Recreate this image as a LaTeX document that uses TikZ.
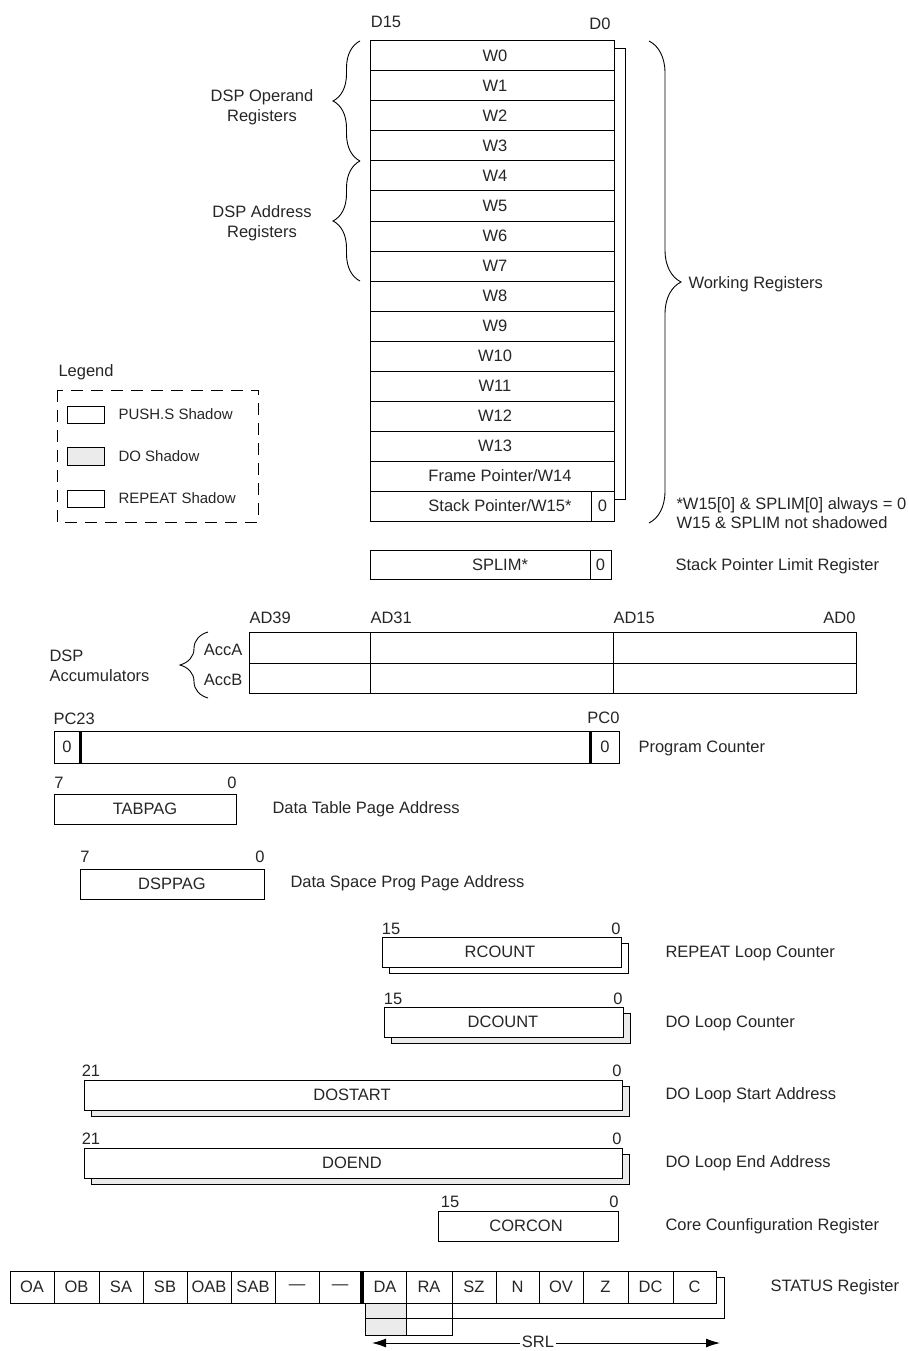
\documentclass[tikz,border=0pt]{standalone}
\usepackage{fontspec}
\setmainfont{Liberation Sans}
\usetikzlibrary{decorations.pathreplacing,arrows.meta}

\begin{document}
\begin{tikzpicture}[x=10pt,y=10pt,line width=1pt,color=black!85]
\tikzstyle{every node}+=[inner sep=0pt,font=\fontsize{16.5}{20}\selectfont]
\tikzstyle{legendtext}=[anchor=west,font=\fontsize{15}{18}\selectfont]
\tikzstyle{doshade}=[fill=black!8]
\useasboundingbox (0,0) rectangle (90.8,-135.1);
% working registers W0..W15 with push.s shadow
\draw [black] (38.1,-4.9) rectangle (62.5,-49.9);
\draw [black,fill=white] (37,-4.1) rectangle (61.4,-52.1);
\draw [black] (37,-7.1) -- (61.4,-7.1);
\draw [black] (37,-10.1) -- (61.4,-10.1);
\draw [black] (37,-13.1) -- (61.4,-13.1);
\draw [black] (37,-16.1) -- (61.4,-16.1);
\draw [black] (37,-19.1) -- (61.4,-19.1);
\draw [black] (37,-22.1) -- (61.4,-22.1);
\draw [black] (37,-25.1) -- (61.4,-25.1);
\draw [black] (37,-28.1) -- (61.4,-28.1);
\draw [black] (37,-31.1) -- (61.4,-31.1);
\draw [black] (37,-34.1) -- (61.4,-34.1);
\draw [black] (37,-37.1) -- (61.4,-37.1);
\draw [black] (37,-40.1) -- (61.4,-40.1);
\draw [black] (37,-43.1) -- (61.4,-43.1);
\draw [black] (37,-46.1) -- (61.4,-46.1);
\draw [black] (37,-49.1) -- (61.4,-49.1);
\draw [black] (59.1,-49.1) -- (59.1,-52.1);
\draw (38.6,-2.2) node (d15) {D15};
\draw (60.0,-2.4) node (d0) {D0};
\draw (49.5,-5.6) node (w0) {W0};
\draw (49.5,-8.6) node (w1) {W1};
\draw (49.5,-11.6) node (w2) {W2};
\draw (49.5,-14.6) node (w3) {W3};
\draw (49.5,-17.6) node (w4) {W4};
\draw (49.5,-20.6) node (w5) {W5};
\draw (49.5,-23.6) node (w6) {W6};
\draw (49.5,-26.6) node (w7) {W7};
\draw (49.5,-29.6) node (w8) {W8};
\draw (49.5,-32.6) node (w9) {W9};
\draw (49.5,-35.6) node (w10) {W10};
\draw (49.5,-38.6) node (w11) {W11};
\draw (49.5,-41.6) node (w12) {W12};
\draw (49.5,-44.6) node (w13) {W13};
\draw (50.0,-47.6) node (w14) {Frame Pointer/W14};
\draw (50.0,-50.6) node (w15) {Stack Pointer/W15*};
\draw (60.25,-50.6) node (w15z) {0};
% braces
\draw [black,line width=0.9pt,decorate,decoration={brace,amplitude=27pt}] (36,-16.1) -- (36,-4.1);
\draw [black,line width=0.9pt,decorate,decoration={brace,amplitude=27pt}] (36,-28.1) -- (36,-16.1);
\draw [black,line width=0.9pt,decorate,decoration={brace,amplitude=32pt}] (64.9,-4.1) -- (64.9,-52.3);
\draw (26.2,-10.7) node [align=center] (oper) {DSP Operand\\Registers};
\draw (26.2,-22.3) node [align=center] (addr) {DSP Address\\Registers};
\draw (68.8,-28.4) node [anchor=west] (work) {Working Registers};
\draw (67.6,-50.5) node [anchor=west] (note1) {*W15[0] \& SPLIM[0] always = 0};
\draw (67.6,-52.3) node [anchor=west] (note2) {W15 \& SPLIM not shadowed};
% stack limit
\draw [black] (37,-55.0) rectangle (61.1,-57.9);
\draw [black] (59.0,-55.0) -- (59.0,-57.9);
\draw (50.0,-56.5) node (splim) {SPLIM*};
\draw (60.05,-56.5) node (splimz) {0};
\draw (67.5,-56.6) node [anchor=west] (splimt) {Stack Pointer Limit Register};
% legend
\draw (5.8,-37.2) node [anchor=west] (leg) {Legend};
\draw [black,dash pattern=on 12pt off 8pt] (5.7,-39.0) rectangle (25.8,-52.2);
\draw [black] (6.7,-40.6) rectangle (10.4,-42.3);
\draw [black,doshade] (6.7,-44.7) rectangle (10.4,-46.5);
\draw [black] (6.7,-49.0) rectangle (10.4,-50.7);
\draw (11.8,-41.4) node [legendtext] (legpush) {PUSH.S Shadow};
\draw (11.8,-45.6) node [legendtext] (legdo) {DO Shadow};
\draw (11.8,-49.8) node [legendtext] (legrep) {REPEAT Shadow};
% accumulators
\draw [black] (24.9,-63.2) rectangle (85.6,-69.3);
\draw [black] (24.9,-66.3) -- (85.6,-66.3);
\draw [black] (37.0,-63.2) -- (37.0,-69.3);
\draw [black] (61.3,-63.2) -- (61.3,-69.3);
\draw (24.9,-61.8) node [anchor=west] (ad39) {AD39};
\draw (37.0,-61.8) node [anchor=west] (ad31) {AD31};
\draw (61.3,-61.8) node [anchor=west] (ad15) {AD15};
\draw (85.6,-61.8) node [anchor=east] (ad0) {AD0};
\draw (24.3,-65.0) node [anchor=east] (acca) {AccA};
\draw (24.3,-68.0) node [anchor=east] (accb) {AccB};
\draw [black,line width=0.9pt,decorate,decoration={brace,amplitude=28pt}] (20.8,-69.8) -- (20.8,-63.2);
\draw (4.9,-66.6) node [anchor=west,align=left] (acc) {DSP\\Accumulators};
% program counter
\draw [black] (5.4,-73.1) rectangle (61.9,-76.3);
\draw [black,line width=3pt] (8.0,-73.1) -- (8.0,-76.3);
\draw [black,line width=3pt] (59.0,-73.1) -- (59.0,-76.3);
\draw (6.7,-74.7) node (pcz1) {0};
\draw (60.5,-74.7) node (pcz2) {0};
\draw (5.3,-71.9) node [anchor=west] (pc23) {PC23};
\draw (62.0,-71.8) node [anchor=east] (pc0) {PC0};
\draw (63.8,-74.8) node [anchor=west] (pct) {Program Counter};
% table page
\draw [black] (5.4,-79.4) rectangle (23.6,-82.4);
\draw (5.9,-78.3) node (tab7) {7};
\draw (23.2,-78.3) node (tab0) {0};
\draw (14.5,-80.9) node (tab) {TABPAG};
\draw (27.2,-80.9) node [anchor=west] (tabt) {Data Table Page Address};
% data space page
\draw [black] (8.0,-86.9) rectangle (26.4,-89.9);
\draw (8.5,-85.7) node (dsp7) {7};
\draw (26.0,-85.7) node (dsp0) {0};
\draw (17.2,-88.4) node (dsp) {DSPPAG};
\draw (29.0,-88.3) node [anchor=west] (dspt) {Data Space Prog Page Address};
% repeat counter
\draw [black] (38.9,-94.3) rectangle (62.8,-97.3);
\draw [black,fill=white] (38.2,-93.7) rectangle (62.1,-96.7);
\draw (39.1,-92.9) node (rc15) {15};
\draw (61.6,-92.9) node (rc0) {0};
\draw (50.0,-95.2) node (rc) {RCOUNT};
\draw (66.5,-95.3) node [anchor=west] (rct) {REPEAT Loop Counter};
% do counter
\draw [black,doshade] (39.1,-101.3) rectangle (63.0,-104.3);
\draw [black,fill=white] (38.4,-100.7) rectangle (62.3,-103.7);
\draw (39.3,-99.9) node (dc15) {15};
\draw (61.8,-99.9) node (dc0) {0};
\draw (50.3,-102.2) node (dc) {DCOUNT};
\draw (66.5,-102.3) node [anchor=west] (dct) {DO Loop Counter};
% do start
\draw [black,doshade] (9.1,-108.6) rectangle (62.9,-111.6);
\draw [black,fill=white] (8.4,-108.0) rectangle (62.2,-111.0);
\draw (9.1,-107.1) node (ds21) {21};
\draw (61.7,-107.1) node (ds0) {0};
\draw (35.2,-109.5) node (ds) {DOSTART};
\draw (66.5,-109.5) node [anchor=west] (dst) {DO Loop Start Address};
% do end
\draw [black,doshade] (9.1,-115.4) rectangle (62.9,-118.4);
\draw [black,fill=white] (8.4,-114.8) rectangle (62.2,-117.8);
\draw (9.1,-113.9) node (de21) {21};
\draw (61.7,-113.9) node (de0) {0};
\draw (35.2,-116.3) node (de) {DOEND};
\draw (66.5,-116.3) node [anchor=west] (det) {DO Loop End Address};
% core config
\draw [black] (43.8,-121.1) rectangle (61.8,-124.1);
\draw (45.0,-120.2) node (cc15) {15};
\draw (61.4,-120.2) node (cc0) {0};
\draw (52.6,-122.6) node (cc) {CORCON};
\draw (66.5,-122.6) node [anchor=west] (cct) {Core Counfiguration Register};
% status register and its shadows
\draw [black] (36.5,-127.7) rectangle (72.4,-131.8);
\draw [black,doshade] (36.5,-130.3) rectangle (40.6,-133.5);
\draw [black] (40.6,-130.3) rectangle (45.2,-133.5);
\draw [black] (36.5,-131.8) -- (45.2,-131.8);
\draw [black,fill=white] (1.0,-127.1) rectangle (71.6,-130.3);
\draw [black] (5.4,-127.1) -- (5.4,-130.3);
\draw [black] (9.9,-127.1) -- (9.9,-130.3);
\draw [black] (14.3,-127.1) -- (14.3,-130.3);
\draw [black] (18.7,-127.1) -- (18.7,-130.3);
\draw [black] (23.1,-127.1) -- (23.1,-130.3);
\draw [black] (27.5,-127.1) -- (27.5,-130.3);
\draw [black] (31.9,-127.1) -- (31.9,-130.3);
\draw [black,line width=4.5pt] (36.2,-127.1) -- (36.2,-130.3);
\draw [black] (40.6,-127.1) -- (40.6,-130.3);
\draw [black] (45.2,-127.1) -- (45.2,-130.3);
\draw [black] (49.6,-127.1) -- (49.6,-130.3);
\draw [black] (53.9,-127.1) -- (53.9,-130.3);
\draw [black] (58.3,-127.1) -- (58.3,-130.3);
\draw [black] (62.8,-127.1) -- (62.8,-130.3);
\draw [black] (67.3,-127.1) -- (67.3,-130.3);
\draw (3.2,-128.7) node (oa) {OA};
\draw (7.65,-128.7) node (ob) {OB};
\draw (12.1,-128.7) node (sa) {SA};
\draw (16.5,-128.7) node (sb) {SB};
\draw (20.9,-128.7) node (oab) {OAB};
\draw (25.3,-128.7) node (sab) {SAB};
\draw (29.7,-128.7) node (na1) {---};
\draw (34.0,-128.7) node (na2) {---};
\draw (38.5,-128.7) node (da) {DA};
\draw (42.9,-128.7) node (ra) {RA};
\draw (47.4,-128.7) node (sz) {SZ};
\draw (51.75,-128.7) node (nn) {N};
\draw (56.1,-128.7) node (ov) {OV};
\draw (60.55,-128.7) node (zz) {Z};
\draw (65.05,-128.7) node (dcf) {DC};
\draw (69.45,-128.7) node (cf) {C};
\draw (77.0,-128.7) node [anchor=west] (st) {STATUS Register};
% low byte arrow
\coordinate (srll) at (37.2,-134.3);
\coordinate (srlr) at (72.0,-134.3);
\draw [black,{Latex[length=14pt,width=9pt]}-{Latex[length=14pt,width=9pt]}] (srll) -- (srlr);
\draw (53.8,-134.2) node [fill=white,inner xsep=2pt] (srl) {SRL};
\end{tikzpicture}
\end{document}
